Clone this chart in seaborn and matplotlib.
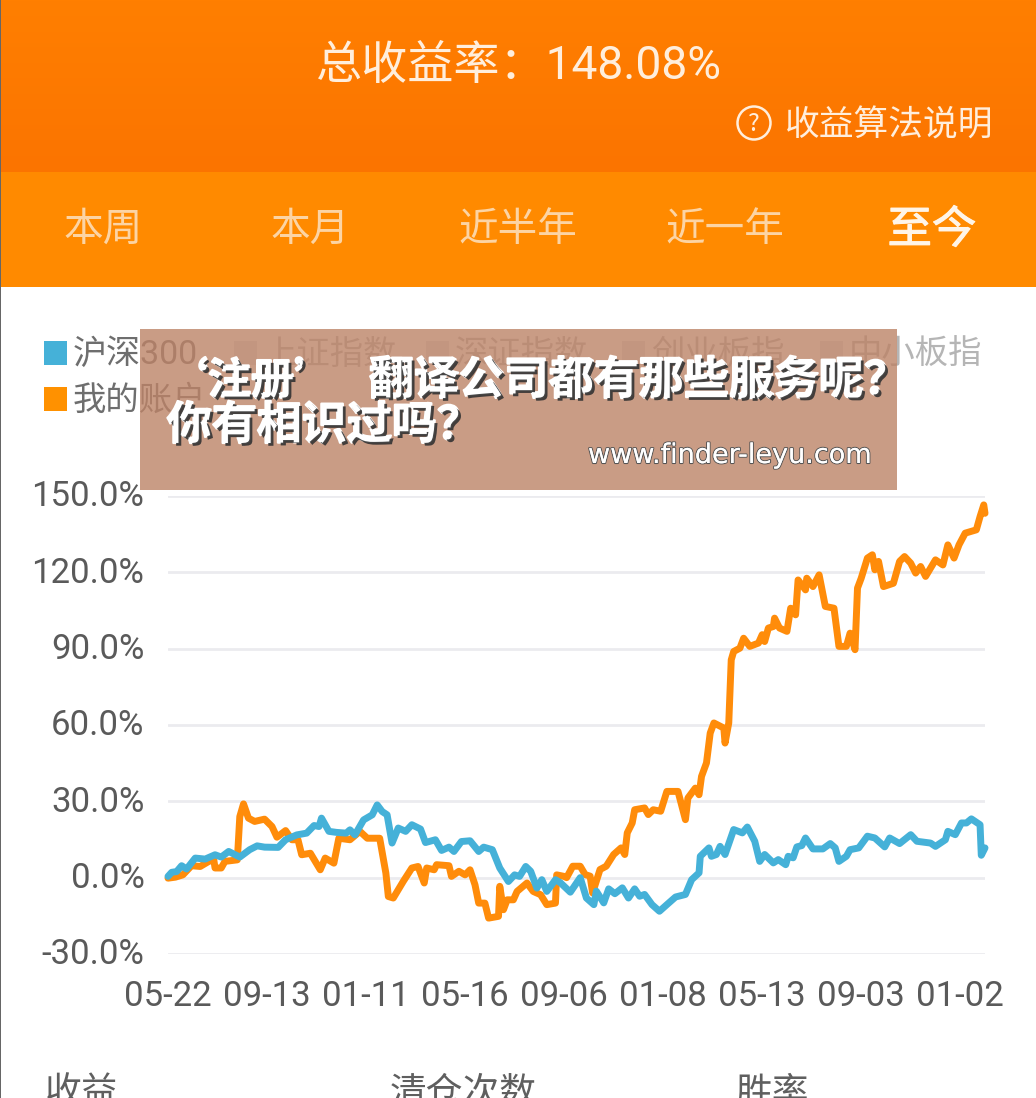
import matplotlib
matplotlib.use("Agg")
import matplotlib.pyplot as plt
import matplotlib.patheffects as pe
from matplotlib.patches import Rectangle, Circle
from matplotlib.transforms import ScaledTranslation
import numpy as np
import pandas as pd
import seaborn as sns

W, H = 1036, 1098

account_days = [0,6,12,19,26,33,37,38,43,46,56,58,61,65,70,78,84,88,95,100,105,108,115,123,127,134,138,147,155,161,171,176,178,182,190,197,202,207,209,215,217,227,229,235,240,244,248,251,256,259,267,268,271,274,279,282,290,295,301,306,313,314,320,322,327,333,337,341,343,349,354,360,366,369,371,375,377,385,388,392,398,403,412,418,420,426,429,431,435,438,441,449,450,453,455,457,462,465,470,477,480,482,485,489,490,494,500,503,507,509,515,516,521,526,531,538,542,548,551,555,557,560,565,569,571,574,578,586,591,595,600,604,608,612,620,626,630,635,639,644,653,656,659,660]
account_pct = [-0.2,0.2,1.1,4.7,4.4,6.4,7.0,3.8,3.8,6.4,7.0,24.0,29.0,23.4,22.1,23.0,20.1,15.9,18.5,14.9,14.9,9.0,9.6,3.1,7.7,5.7,15.5,14.9,18.2,15.5,15.5,1.8,-7.4,-8.0,-1.5,3.8,4.4,-2.1,3.8,3.1,5.1,4.7,0.5,2.5,1.1,3.1,-2.8,-10.0,-10.0,-15.9,-15.2,-3.4,-12.6,-8.7,-8.7,-5.4,-2.1,-5.4,-6.7,-10.6,-10.0,1.1,0.5,0.0,4.5,4.5,1.2,0.6,-6.0,3.2,4.5,9.1,11.7,9.1,17.6,21.5,26.7,27.4,24.8,26.7,26.1,33.9,33.9,22.8,31.3,35.2,32.6,39.8,45.1,56.8,60.8,58.8,52.9,60.8,85.6,88.9,90.2,94.1,90.9,92.2,95.5,92.8,98.1,98.7,102.0,98.1,96.8,105.9,103.3,117.0,113.1,117.7,114.4,119.0,106.6,105.9,90.9,90.9,96.1,89.6,113.8,117.7,125.6,126.9,121.0,124.3,114.4,115.7,124.3,126.2,123.6,119.7,122.3,118.4,124.9,122.9,130.8,125.6,130.8,135.4,136.7,141.9,146.5,143.2]

index_days = [0,3,7,11,15,22,30,38,43,49,58,66,72,78,89,95,104,112,118,122,124,130,136,144,147,151,158,165,169,173,177,181,186,192,197,204,208,216,221,227,231,237,244,251,255,262,268,275,280,284,289,293,298,302,306,313,317,325,333,338,344,346,352,356,361,367,372,377,381,385,391,397,403,410,418,423,429,430,437,439,443,446,450,457,464,468,474,478,482,489,493,499,501,505,508,512,515,521,529,535,539,542,548,551,558,565,571,579,583,591,600,605,616,620,628,630,636,641,645,649,656,657,660]
index_pct = [0.5,2.1,2.4,4.7,3.4,7.7,7.3,9.0,8.1,10.3,8.1,11.0,12.5,12.0,11.9,14.9,16.8,17.5,20.5,20.1,23.4,18.2,17.8,17.5,18.8,16.8,22.7,24.7,28.6,26.0,24.7,13.6,19.5,18.2,20.8,19.1,13.8,14.9,10.7,12.0,10.3,14.2,14.5,10.3,12.0,11.0,3.8,-1.5,1.1,0.5,4.4,2.5,-4.1,-0.8,-5.4,-0.8,-2.0,-5.7,0.0,-8.0,-10.6,-5.3,-9.9,-4.4,-6.3,-4.0,-8.0,-4.4,-7.3,-6.6,-10.6,-13.2,-10.6,-7.6,-6.6,-0.8,1.9,8.4,11.7,8.4,9.1,12.3,9.1,18.9,17.6,19.9,14.3,6.4,9.1,5.8,7.1,5.1,8.4,7.8,12.1,12.6,15.6,11.3,11.3,13.4,11.7,6.4,8.4,11.0,11.7,16.3,15.6,12.1,15.6,13.4,16.9,14.3,13.6,12.3,14.9,18.2,16.9,21.5,21.5,23.1,20.8,8.8,11.7]

x_tick_days = [0,80,160,240,320,400,480,560,640]
x_tick_labels = ["05-22","09-13","01-11","05-16","09-06","01-08","05-13","09-03","01-02"]
y_ticks = [-30,0,30,60,90,120,150]
y_tick_labels = ["-30.0%","0.0%","30.0%","60.0%","90.0%","120.0%","150.0%"]
tabs = ["本周","本月","近半年","近一年","至今"]
legend_names = ["沪深300","上证指数","深证指数","创业板指","中小板指","我的账户"]
stats = ["收益","清仓次数","胜率"]
title = "总收益率：148.08%"
help_text = "收益算法说明"

BLUE, ORANGE = "#45B1D8", "#FF8C0A"

sns.set_theme(style="white")
plt.rcParams["font.family"] = ["Noto Sans CJK SC", "DejaVu Sans"]

fig = plt.figure(figsize=(W/100, H/100), dpi=100, facecolor="white")
bg = fig.add_axes([0, 0, 1, 1], zorder=0)
bg.set_xlim(0, W); bg.set_ylim(H, 0); bg.axis("off")

# header bands
grad = np.array([255,127,0]) + np.linspace(0, 1, 172)[:, None, None] * (np.array([251,116,0]) - np.array([255,127,0]))
bg.imshow(grad.astype(np.uint8), extent=[0, W, 172, 0], aspect="auto", zorder=1)
bg.set_xlim(0, W); bg.set_ylim(H, 0)
bg.add_patch(Rectangle((0, 172), W, 115, color="#FF8A00", lw=0, zorder=1))
bg.add_patch(Rectangle((0, 0), 1.0, H, color="#666666", lw=0, zorder=3))

LIGHT = "#FFEEDC"
bg.text(519, 66, title, color=LIGHT, fontsize=33.2, ha="center", va="center", zorder=2, family=["Roboto", "Noto Sans CJK SC"])
bg.add_patch(Circle((754, 123), 16.5, fill=False, ec=LIGHT, lw=1.8, zorder=2))
bg.text(754, 124, "?", color=LIGHT, fontsize=18, ha="center", va="center", zorder=2)
bg.text(889, 126, help_text, color=LIGHT, fontsize=25, ha="center", va="center", zorder=2)

for cx, t, c, fs in zip([103,310,518,725,932], tabs, ["#FCD4A4"]*4+["#FFF5E8"], [28.5,28.5,28.5,28.5,32]):
    txt = bg.text(cx, 230, t, color=c, fontsize=fs, ha="center", va="center", zorder=2)
    if t == "至今":
        txt.set_path_effects([pe.withStroke(linewidth=0.8, foreground=c)])

# legend
for i, (x, y, name) in enumerate(zip([73,263,455,651,849,73], [353,353,353,353,353,399], legend_names)):
    active = i in (0, 5)
    col = {0: BLUE, 5: "#FF9100"}.get(i, "#E3E3E3")
    bg.add_patch(Rectangle((x-29, y-12), 23, 24, color=col, lw=0, zorder=2))
    bg.text(x, y+2, name, color="#6E6E6E" if active else "#B5B5B5", fontsize=24.5 if i == 0 else 24,
            ha="left", va="center", zorder=2, family=["Roboto", "Noto Sans CJK SC"])

for x, t in zip([45,390,736], stats):
    bg.text(x, 1093, t, color="#5F5F5F", fontsize=26.5, ha="left", va="center", zorder=2)

# chart
X0, X1, Y150, Ym30 = 168, 985, 496, 954
ax = fig.add_axes([X0/W, 1-Ym30/H, (X1-X0)/W, (Ym30-Y150)/H], zorder=2)
ax.patch.set_alpha(0)
df = pd.concat([
    pd.DataFrame({"day": account_days, "pct": account_pct, "series": "我的账户"}),
    pd.DataFrame({"day": index_days, "pct": index_pct, "series": "沪深300"}),
])
sns.lineplot(data=df, x="day", y="pct", hue="series", palette=[ORANGE, BLUE],
             hue_order=["我的账户", "沪深300"], estimator=None, sort=False, lw=5, ax=ax,
             legend=False, solid_joinstyle="round", clip_on=False)
ax.set_xlim(0, 660); ax.set_ylim(-30, 150)
ax.set_xticks(x_tick_days); ax.set_xticklabels(x_tick_labels)
ax.set_yticks(y_ticks); ax.set_yticklabels(y_tick_labels)
ax.set_xlabel(""); ax.set_ylabel("")
ax.grid(axis="y", color="#EBEBEF", lw=2); ax.grid(axis="x", visible=False)
ax.set_axisbelow(True)
for s in ax.spines.values():
    s.set_visible(False)
ax.tick_params(axis="both", length=0, labelsize=25, labelcolor="#5A5A5A")
ax.tick_params(axis="y", pad=17)
ax.tick_params(axis="x", pad=18.5)
for l in ax.get_xticklabels() + ax.get_yticklabels():
    l.set_fontfamily(["Roboto", "DejaVu Sans"])
up = ScaledTranslation(0, 2.5/100, fig.dpi_scale_trans)
for l in ax.get_yticklabels():
    l.set_transform(l.get_transform() + up)

# overlay
top = fig.add_axes([0, 0, 1, 1], zorder=3)
top.set_xlim(0, W); top.set_ylim(H, 0); top.axis("off")
top.add_patch(Rectangle((140, 329), 757, 161, color="#BC8367", alpha=0.8, lw=0))
shadow = [pe.withStroke(linewidth=1.6, foreground="white"), pe.SimplePatchShadow(offset=(2, -2), shadow_rgbFace="#333333", alpha=0.9), pe.Normal()]
top.text(165, 381, "‘注册’", color="white", fontsize=31, fontweight="bold", ha="left", va="center", path_effects=shadow)
top.text(369, 381, "翻译公司都有那些服务呢？", color="white", fontsize=32.4, fontweight="bold", ha="left", va="center", path_effects=shadow)
top.text(167, 426, "你有相识过吗？", color="white", fontsize=32.4, fontweight="bold", ha="left", va="center", path_effects=shadow)
top.text(730, 456, "www.finder-leyu.com", color="white", fontsize=19.5, ha="center", va="center",
         family=["DejaVu Sans"], path_effects=[pe.withStroke(linewidth=1.5, foreground="#555555"), pe.Normal()])

fig.savefig("out.png", dpi=100)
